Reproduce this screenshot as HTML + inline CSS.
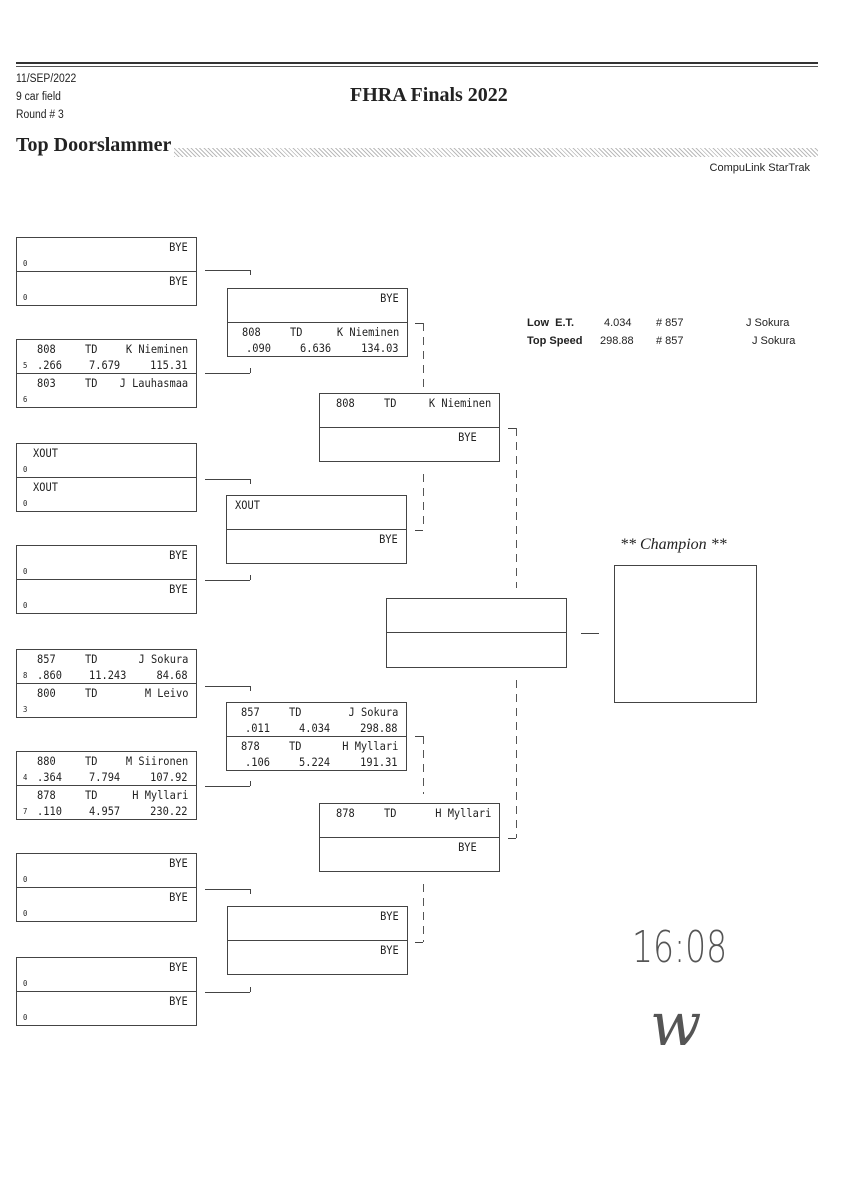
<!DOCTYPE html>
<html><head><meta charset="utf-8"><style>
body{margin:0;background:#fff;width:848px;height:1200px;position:relative;overflow:hidden;font-family:"DejaVu Sans Mono","Liberation Mono",monospace;color:#222}
.a{position:absolute}
.b{position:absolute;width:179px;height:67px;border:1px solid #444;background:#fff}
.h{position:relative;height:33px}
.h+.h{border-top:1px solid #444;height:33px}
.b span{position:absolute;font-size:11.5px;white-space:nowrap;transform:scaleX(.9);transform-origin:left}
.b span.r{transform-origin:right}
.t{top:2px}.u{top:18px}
.c1{left:20px}.c2{left:68px}.m{left:72px}.r{right:8px}
.b span.s{left:6px;font-size:8px;top:21px}
.hl{position:absolute;border-top:1px solid #444}
.vl{position:absolute;border-left:1px solid #444}
.dl{position:absolute;width:1px;background:repeating-linear-gradient(180deg,#555 0 8px,transparent 8px 14px)}
.sans{font-family:"Liberation Sans",sans-serif}
</style></head><body>
<div class="a" style="left:16px;top:62px;width:802px;height:2px;background:#333"></div>
<div class="a" style="left:16px;top:66px;width:802px;height:1px;background:#555"></div>
<div class="a sans" style="left:16px;top:70px;font-size:11.5px;line-height:18px;transform:scaleX(.9);transform-origin:left">11/SEP/2022<br>9 car field<br>Round # 3</div>
<div class="a" style="left:350px;top:84px;font:bold 20px 'Liberation Serif',serif">FHRA Finals 2022</div>
<div class="a" style="left:16px;top:134px;font:bold 20px 'Liberation Serif',serif">Top Doorslammer</div>
<div class="a" style="left:174px;top:148px;width:644px;height:9px;background:repeating-linear-gradient(45deg,#bbb 0 1px,#fff 1px 3px)"></div>
<div class="a sans" style="right:38px;top:162px;font-size:11px">CompuLink StarTrak</div>

<!-- column 1 -->
<div class="b" style="left:16px;top:237px"><div class="h"><span class="t r">BYE</span><span class="s">0</span></div><div class="h"><span class="t r">BYE</span><span class="s">0</span></div></div>
<div class="b" style="left:16px;top:339px"><div class="h"><span class="t c1">808</span><span class="t c2">TD</span><span class="t r">K Nieminen</span><span class="s">5</span><span class="u c1">.266</span><span class="u m">7.679</span><span class="u r">115.31</span></div><div class="h"><span class="t c1">803</span><span class="t c2">TD</span><span class="t r">J Lauhasmaa</span><span class="s">6</span></div></div>
<div class="b" style="left:16px;top:443px"><div class="h"><span class="t" style="left:16px">XOUT</span><span class="s">0</span></div><div class="h"><span class="t" style="left:16px">XOUT</span><span class="s">0</span></div></div>
<div class="b" style="left:16px;top:545px"><div class="h"><span class="t r">BYE</span><span class="s">0</span></div><div class="h"><span class="t r">BYE</span><span class="s">0</span></div></div>
<div class="b" style="left:16px;top:649px"><div class="h"><span class="t c1">857</span><span class="t c2">TD</span><span class="t r">J Sokura</span><span class="s">8</span><span class="u c1">.860</span><span class="u m">11.243</span><span class="u r">84.68</span></div><div class="h"><span class="t c1">800</span><span class="t c2">TD</span><span class="t r">M Leivo</span><span class="s">3</span></div></div>
<div class="b" style="left:16px;top:751px"><div class="h"><span class="t c1">880</span><span class="t c2">TD</span><span class="t r">M Siironen</span><span class="s">4</span><span class="u c1">.364</span><span class="u m">7.794</span><span class="u r">107.92</span></div><div class="h"><span class="t c1">878</span><span class="t c2">TD</span><span class="t r">H Myllari</span><span class="s">7</span><span class="u c1">.110</span><span class="u m">4.957</span><span class="u r">230.22</span></div></div>
<div class="b" style="left:16px;top:853px"><div class="h"><span class="t r">BYE</span><span class="s">0</span></div><div class="h"><span class="t r">BYE</span><span class="s">0</span></div></div>
<div class="b" style="left:16px;top:957px"><div class="h"><span class="t r">BYE</span><span class="s">0</span></div><div class="h"><span class="t r">BYE</span><span class="s">0</span></div></div>

<!-- column 2 -->
<div class="b" style="left:227px;top:288px"><div class="h"><span class="t r">BYE</span></div><div class="h"><span class="t" style="left:14px">808</span><span class="t" style="left:62px">TD</span><span class="t r">K Nieminen</span><span class="u" style="left:18px">.090</span><span class="u m">6.636</span><span class="u r">134.03</span></div></div>
<div class="b" style="left:226px;top:495px"><div class="h"><span class="t" style="left:8px">XOUT</span></div><div class="h"><span class="t r">BYE</span></div></div>
<div class="b" style="left:226px;top:702px"><div class="h"><span class="t" style="left:14px">857</span><span class="t" style="left:62px">TD</span><span class="t r">J Sokura</span><span class="u" style="left:18px">.011</span><span class="u m">4.034</span><span class="u r">298.88</span></div><div class="h"><span class="t" style="left:14px">878</span><span class="t" style="left:62px">TD</span><span class="t r">H Myllari</span><span class="u" style="left:18px">.106</span><span class="u m">5.224</span><span class="u r">191.31</span></div></div>
<div class="b" style="left:227px;top:906px"><div class="h"><span class="t r">BYE</span></div><div class="h"><span class="t r">BYE</span></div></div>

<!-- column 3 -->
<div class="b" style="left:319px;top:393px"><div class="h"><span class="t" style="left:16px">808</span><span class="t" style="left:64px">TD</span><span class="t r">K Nieminen</span></div><div class="h"><span class="t r" style="right:22px">BYE</span></div></div>
<div class="b" style="left:319px;top:803px"><div class="h"><span class="t" style="left:16px">878</span><span class="t" style="left:64px">TD</span><span class="t r">H Myllari</span></div><div class="h"><span class="t r" style="right:22px">BYE</span></div></div>

<!-- column 4 -->
<div class="b" style="left:386px;top:598px;height:68px"><div class="h"></div><div class="h"></div></div>
<div class="a" style="left:614px;top:565px;width:141px;height:136px;border:1px solid #444"></div>
<div class="a" style="left:620px;top:536px;font:italic 16px 'Liberation Serif',serif">** Champion **</div>
<div class="hl" style="left:581px;top:633px;width:18px"></div>

<!-- stats -->
<div class="a sans" style="left:527px;top:317px;font-size:11px;font-weight:bold">Low&nbsp; E.T.</div>
<div class="a sans" style="left:527px;top:335px;font-size:11px;font-weight:bold">Top Speed</div>
<div class="a sans" style="left:604px;top:317px;font-size:11px">4.034</div>
<div class="a sans" style="left:600px;top:335px;font-size:11px">298.88</div>
<div class="a sans" style="left:656px;top:317px;font-size:11px"># 857</div>
<div class="a sans" style="left:656px;top:335px;font-size:11px"># 857</div>
<div class="a sans" style="left:746px;top:317px;font-size:11px">J Sokura</div>
<div class="a sans" style="left:752px;top:335px;font-size:11px">J Sokura</div>

<!-- col1->col2 connectors -->
<div class="hl" style="left:205px;top:270px;width:45px"></div><div class="vl" style="left:250px;top:270px;height:5px"></div>
<div class="hl" style="left:205px;top:373px;width:45px"></div><div class="vl" style="left:250px;top:368px;height:5px"></div>
<div class="hl" style="left:205px;top:479px;width:45px"></div><div class="vl" style="left:250px;top:479px;height:5px"></div>
<div class="hl" style="left:205px;top:580px;width:45px"></div><div class="vl" style="left:250px;top:575px;height:5px"></div>
<div class="hl" style="left:205px;top:686px;width:45px"></div><div class="vl" style="left:250px;top:686px;height:5px"></div>
<div class="hl" style="left:205px;top:786px;width:45px"></div><div class="vl" style="left:250px;top:781px;height:5px"></div>
<div class="hl" style="left:205px;top:889px;width:45px"></div><div class="vl" style="left:250px;top:889px;height:5px"></div>
<div class="hl" style="left:205px;top:992px;width:45px"></div><div class="vl" style="left:250px;top:987px;height:5px"></div>

<!-- col2->col3 -->
<div class="hl" style="left:415px;top:323px;width:8px"></div><div class="dl" style="left:423px;top:323px;height:66px"></div>
<div class="dl" style="left:423px;top:474px;height:56px"></div><div class="hl" style="left:415px;top:530px;width:8px"></div>
<div class="hl" style="left:415px;top:736px;width:8px"></div><div class="dl" style="left:423px;top:736px;height:58px"></div>
<div class="dl" style="left:423px;top:884px;height:58px"></div><div class="hl" style="left:415px;top:942px;width:8px"></div>

<!-- col3->col4 -->
<div class="hl" style="left:508px;top:428px;width:8px"></div><div class="dl" style="left:516px;top:428px;height:160px"></div>
<div class="dl" style="left:516px;top:680px;height:158px"></div><div class="hl" style="left:508px;top:838px;width:8px"></div>

<!-- handwriting -->
<div class="a" style="left:632px;top:922px;font:44px 'DejaVu Sans',sans-serif;color:#555;font-weight:200;transform:scaleX(.75);transform-origin:left">16:08</div>
<div class="a" style="left:650px;top:990px;font:italic 60px 'DejaVu Serif',serif;color:#555;font-weight:200">w</div>
</body></html>
